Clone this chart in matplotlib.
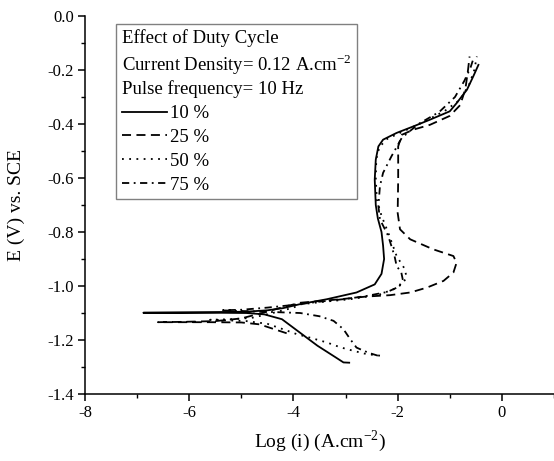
import matplotlib
matplotlib.use("Agg")
import matplotlib.pyplot as plt
from matplotlib.ticker import MultipleLocator

plt.rcParams["font.family"] = ["Liberation Serif", "DejaVu Serif"]
plt.rcParams["mathtext.fontset"] = "custom"
plt.rcParams["mathtext.rm"] = "Liberation Serif"
plt.rcParams["axes.unicode_minus"] = False

# Polarization curves (cathodic end -> Ecorr tip -> anodic end)
x_10 = [-2.93, -3.04, -3.2, -3.54, -3.88, -4.22, -4.56, -4.9, -5.5, -6.2, -6.88,
        -6.2, -5.5, -4.9, -4.5, -4.2, -3.87, -3.36, -2.79, -2.44, -2.31, -2.26, -2.28,
        -2.31, -2.38, -2.42, -2.44, -2.42, -2.37, -2.28, -2.02, -1.70, -1.38, -1.0,
        -0.87, -0.67, -0.55, -0.45]
y_10 = [-1.284, -1.283, -1.263, -1.221, -1.172, -1.123, -1.105, -1.100, -1.099, -1.099, -1.099,
        -1.098, -1.097, -1.095, -1.09, -1.082, -1.067, -1.049, -1.024, -0.994, -0.955, -0.90, -0.85,
        -0.80, -0.75, -0.70, -0.606, -0.532, -0.483, -0.458, -0.433, -0.409, -0.384, -0.353,
        -0.323, -0.273, -0.224, -0.181]

x_25 = [-4.13, -4.32, -4.65, -5.0, -5.6, -6.2, -6.6,
        -6.2, -5.5, -5.0, -4.6, -4.2, -3.87, -3.1, -2.6, -2.15, -1.76, -1.44, -1.12, -0.93,
        -0.87, -0.93, -1.32, -1.76, -1.955, -2.0, -1.99, -1.99, -1.92, -1.7, -1.38, -1.0,
        -0.8, -0.7, -0.65, -0.62]
y_25 = [-1.175, -1.163, -1.142, -1.135, -1.134, -1.134, -1.134,
        -1.133, -1.13, -1.12, -1.10, -1.078, -1.062, -1.049, -1.039, -1.034, -1.024, -1.006, -0.981, -0.950,
        -0.914, -0.889, -0.864, -0.827, -0.790, -0.729, -0.606, -0.483, -0.44, -0.421, -0.403, -0.37,
        -0.33, -0.27, -0.2, -0.15]

x_50 = [-2.34, -2.6, -2.85, -3.1, -3.36, -3.65, -3.94, -4.2, -4.5, -4.9, -5.3, -5.6,
        -5.2, -4.8, -4.4, -4.0, -3.87, -3.4, -2.91, -2.34, -2.08, -1.92, -1.83, -1.86,
        -2.02, -2.18, -2.31, -2.40, -2.42, -2.41, -2.35, -2.2, -1.9, -1.5, -1.1, -0.8,
        -0.62, -0.53, -0.48]
y_50 = [-1.258, -1.252, -1.24, -1.227, -1.209, -1.193, -1.178, -1.16, -1.14, -1.13, -1.127, -1.125,
        -1.123, -1.118, -1.10, -1.08, -1.068, -1.058, -1.049, -1.031, -1.012, -0.994, -0.969, -0.938,
        -0.889, -0.803, -0.74, -0.68, -0.60, -0.53, -0.485, -0.455, -0.428, -0.392, -0.352, -0.31,
        -0.25, -0.2, -0.15]

x_75 = [-2.38, -2.53, -2.65, -2.79, -2.91, -3.04, -3.23, -3.5, -3.87, -4.3, -4.8, -5.4,
        -5.0, -4.5, -4.0, -3.5, -3.0, -2.6, -2.2, -1.98, -1.9, -1.93, -2.02, -2.06,
        -2.18, -2.34, -2.37, -2.34, -2.28, -2.12, -1.92, -1.6, -1.2, -0.9, -0.72, -0.6, -0.55]
y_75 = [-1.258, -1.249, -1.24, -1.228, -1.197, -1.16, -1.129, -1.112, -1.100, -1.097, -1.094, -1.09,
        -1.088, -1.08, -1.07, -1.058, -1.048, -1.037, -1.022, -1.003, -0.978, -0.95, -0.926, -0.889,
        -0.815, -0.753, -0.704, -0.630, -0.581, -0.52, -0.451, -0.40, -0.355, -0.30, -0.24, -0.19, -0.16]

labels = ["10 %", "25 %", "50 %", "75 %"]
legend_title = ("Effect of Duty Cycle\n"
                "Current Density= 0.12 A.cm$^{\\mathrm{-2}}$\n"
                "Pulse frequency= 10 Hz")

fig = plt.figure(figsize=(5.54, 4.61), dpi=100)
ax = fig.add_axes([0.1534, 0.1453, 0.8466, 0.82])

ax.plot(x_10, y_10, color="black", lw=1.3, ls="-", label=labels[0])
ax.plot(x_25, y_25, color="black", lw=1.3, ls=(0, (5, 3)), label=labels[1])
ax.plot(x_50, y_50, color="black", lw=1.3, ls=(0, (1, 3)), label=labels[2])
ax.plot(x_75, y_75, color="black", lw=1.3, ls=(0, (4, 2.5, 1, 2.5)), label=labels[3])

ax.set_xlim(-8, 1)
ax.set_ylim(-1.4, 0.0)
ax.xaxis.set_major_locator(MultipleLocator(2))
ax.xaxis.set_minor_locator(MultipleLocator(1))
ax.yaxis.set_major_locator(MultipleLocator(0.2))
ax.yaxis.set_minor_locator(MultipleLocator(0.1))

for side in ["top", "right"]:
    ax.spines[side].set_visible(False)
for side in ["left", "bottom"]:
    ax.spines[side].set_linewidth(1.1)

ax.tick_params(which="major", direction="out", length=5, width=1.1, labelsize=12, pad=3)
ax.tick_params(which="minor", direction="out", length=3, width=1.0)

ax.set_xlabel("Log (i) (A.cm$^{\\mathrm{-2}}$)", fontsize=14)
ax.set_ylabel("E (V) vs. SCE", fontsize=14)
ax.xaxis.set_label_coords(0.5, -0.09)
ax.yaxis.set_label_coords(-0.128, 0.5)

leg = ax.legend(title=legend_title, loc="upper left", bbox_to_anchor=(0.066, 0.979),
                borderaxespad=0, fontsize=13.5, title_fontsize=13.5, alignment="left",
                frameon=True, fancybox=False, edgecolor="#808080", framealpha=1,
                handlelength=2.4, handletextpad=0.2, labelspacing=0.36, borderpad=0.3)
leg.get_frame().set_linewidth(1.0)
leg.get_title().set_linespacing(1.25)

fig.savefig("out.png", dpi=100)
